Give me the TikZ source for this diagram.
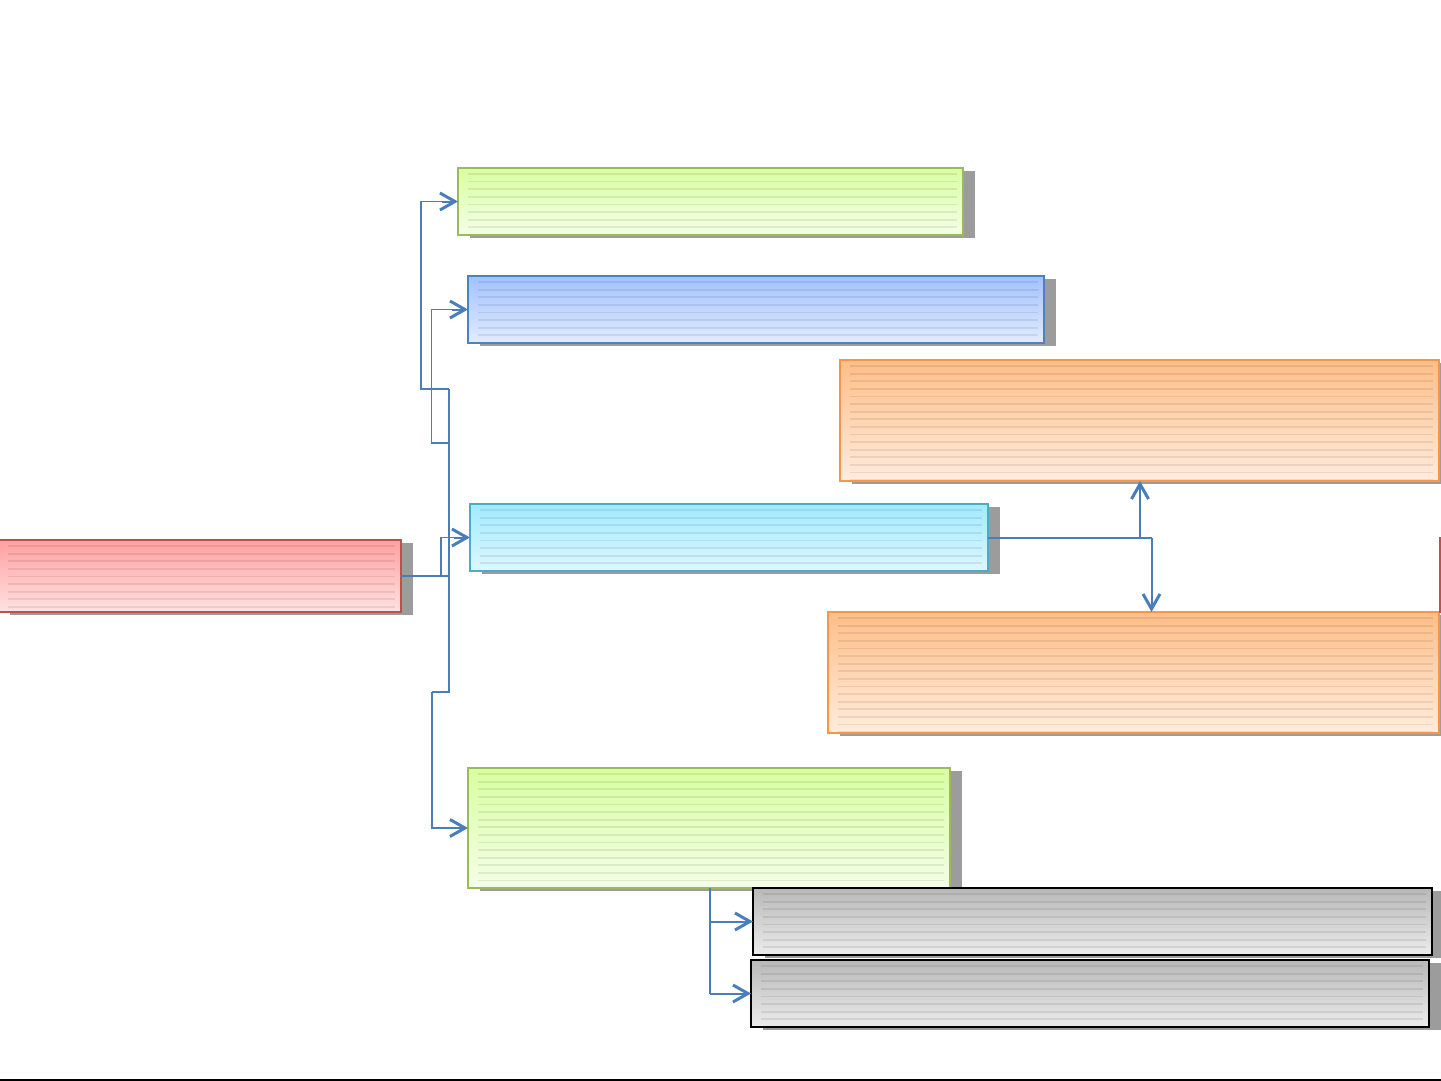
\documentclass[tikz,border=0pt]{standalone}
\usetikzlibrary{shadows,arrows.meta}
\definecolor{lineblue}{RGB}{74,126,187}
\definecolor{shadowgray}{RGB}{156,156,156}
\definecolor{redtop}{RGB}{255,160,160}
\definecolor{redbot}{RGB}{255,226,226}
\definecolor{redline}{RGB}{192,80,77}
\definecolor{greentop}{RGB}{216,255,160}
\definecolor{greenbot}{RGB}{244,255,232}
\definecolor{greenline}{RGB}{155,187,89}
\definecolor{bluetop}{RGB}{160,194,255}
\definecolor{bluebot}{RGB}{226,236,255}
\definecolor{blueline}{RGB}{79,129,189}
\definecolor{orangetop}{RGB}{255,190,134}
\definecolor{orangebot}{RGB}{255,236,222}
\definecolor{orangeline}{RGB}{247,150,70}
\definecolor{cyantop}{RGB}{160,235,255}
\definecolor{cyanbot}{RGB}{222,247,255}
\definecolor{cyanline}{RGB}{75,172,198}
\definecolor{graytop}{RGB}{184,184,184}
\definecolor{graybot}{RGB}{236,236,236}
\begin{document}
\begin{tikzpicture}[x=0.5pt,y=-0.5pt,
  box/.style={rectangle, inner sep=0pt, outer sep=0pt, anchor=north west,
    drop shadow={shadow xshift=6pt, shadow yshift=-1.5pt, fill=shadowgray, opacity=1},
    path picture={\foreach \i in {1,...,16}{\draw[black, opacity=0.08, line width=0.9pt]
      ([xshift=5pt,yshift=-\i*3.8pt+0.8pt]path picture bounding box.north west) --
      ([xshift=-3pt,yshift=-\i*3.8pt+0.8pt]path picture bounding box.north east);}}},
  redbox/.style={box, draw=redline, line width=0.9pt, top color=redtop, bottom color=redbot},
  greenbox/.style={box, draw=greenline, line width=0.9pt, top color=greentop, bottom color=greenbot},
  bluebox/.style={box, draw=blueline, line width=1pt, top color=bluetop, bottom color=bluebot},
  orangebox/.style={box, draw=orangeline, line width=1pt, top color=orangetop, bottom color=orangebot},
  cyanbox/.style={box, draw=cyanline, line width=1pt, top color=cyantop, bottom color=cyanbot},
  graybox/.style={box, draw=black, line width=1.1pt, top color=graytop, bottom color=graybot},
  conn/.style={draw=lineblue, line width=1pt},
  thinconn/.style={draw=lineblue, line width=0.6pt},
  tip/.style={-{Straight Barb[length=7.5pt,width=8.5pt,line width=1.5pt]}}
]
\useasboundingbox (0,0) rectangle (1441,1081);

% boxes
\node[redbox, minimum width=201.5pt, minimum height=36pt] (red) at (-2,540) {};
\node[greenbox, minimum width=252.5pt, minimum height=33.5pt] (g1) at (458,168) {};
\node[bluebox, minimum width=288pt, minimum height=33.5pt] (b1) at (468,276) {};
\node[orangebox, minimum width=299.5pt, minimum height=60.5pt] (o1) at (840,360) {};
\node[cyanbox, minimum width=259pt, minimum height=33.5pt] (c1) at (470,504) {};
\node[orangebox, minimum width=305.5pt, minimum height=60.5pt] (o2) at (828,612) {};
\node[greenbox, minimum width=241pt, minimum height=60pt] (g2) at (468,768) {};
\node[graybox, minimum width=339.5pt, minimum height=33.5pt] (k1) at (753,888) {};
\node[graybox, minimum width=339pt, minimum height=33.5pt] (k2) at (751,960) {};
\node[redbox, minimum width=200pt, minimum height=37pt] (red2) at (1440,538) {};

% trunk coordinates
\coordinate (tT) at (449,389);
\coordinate (tJ) at (449,576);
\coordinate (tB) at (449,692);
\coordinate (tM) at (449,443);
\coordinate (a1) at (421,389);
\coordinate (a2) at (431.5,443);
\coordinate (a3) at (431.5,692);
\coordinate (a4) at (441,576);
\coordinate (ju) at (1140,537.5);
\coordinate (jd) at (1151.5,537.5);
\coordinate (bx) at (710,0);

% left connectors
\draw[conn] (red.east) -- (tJ);
\draw[conn] (tT) -- (tB) -- (a3);
\draw[conn, tip] (a3) |- (g2.west);
\draw[thinconn] (tT) -- (a1) |- ([xshift=-8pt]g1.west);
\draw[conn, tip] ([xshift=-8pt]g1.west) -- (g1.west);
\draw[thinconn] (tM) -- (a2) |- ([xshift=-8pt]b1.west);
\draw[conn, tip] ([xshift=-8pt]b1.west) -- (b1.west);
\draw[thinconn] (a4) |- ([xshift=-8pt]c1.west);
\draw[conn, tip] ([xshift=-8pt]c1.west) -- (c1.west);

% right connectors
\draw[conn] (c1.east) -- (jd);
\draw[conn, tip] (ju) -- (ju |- o1.south);
\draw[conn, tip] (jd) -- (jd |- o2.north);

% bottom connectors
\draw[thinconn] (bx |- g2.south) -- (bx |- k2.west);
\draw[conn, tip] (bx |- k1.west) -- (k1.west);
\draw[conn, tip] (bx |- k2.west) -- (k2.west);

% bottom rule
\coordinate (bl) at (0,1080);
\coordinate (br) at (1441,1080);
\draw[black, line width=1pt] (bl) -- (br);
\end{tikzpicture}
\end{document}
